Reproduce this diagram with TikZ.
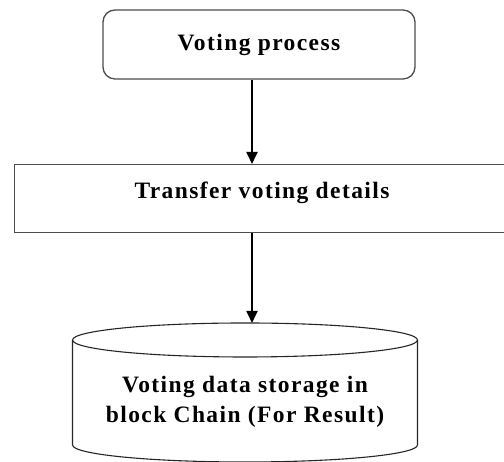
\documentclass[tikz,border=0pt]{standalone}
\usepackage{fontspec}
\setmainfont{Liberation Serif}[LetterSpace=6]
\usetikzlibrary{arrows.meta}
\begin{document}
\begin{tikzpicture}[x=1pt,y=1pt,
  outline/.style={draw=black!70,line width=1.3pt},
  procbox/.style={outline,rounded corners=12pt,minimum width=312pt,minimum height=69pt,inner sep=0pt},
  plainbox/.style={outline,minimum width=506pt,minimum height=68pt,inner sep=0pt,anchor=north west},
  caption/.style={font=\fontsize{23.5}{30}\selectfont\bfseries,align=center,inner sep=0pt},
  flow/.style={line width=1.8pt,-{Triangle[width=11pt,length=12pt]}}]
\useasboundingbox (0,0) rectangle (504,462);
% process step
\node[procbox,caption] (vote) at (259,417.5) {Voting process};
% transfer step (runs past the right edge)
\node[plainbox] (transfer) at (14,298) {};
\node[caption] (transfertext) at (262,269) {Transfer voting details};
% storage cylinder
\coordinate (axis) at (252,0);
\coordinate (storetop) at (252,139);
\draw[outline,draw=black!85,line width=1.1pt] (245,122) ellipse [x radius=172.5pt,y radius=17pt];
\draw[outline,draw=black!85,line width=1.1pt] (72.5,122) -- (72.5,17)
  arc[start angle=180,end angle=360,x radius=172.5pt,y radius=17pt] -- (417.5,122);
\node[caption] (store) at (245,60) {Voting data storage in\\block Chain (For Result)};
% connectors
\draw[flow] (vote.south -| axis) -- (transfer.north -| axis);
\draw[flow] (transfer.south -| axis) -- (storetop);
\end{tikzpicture}
\end{document}
